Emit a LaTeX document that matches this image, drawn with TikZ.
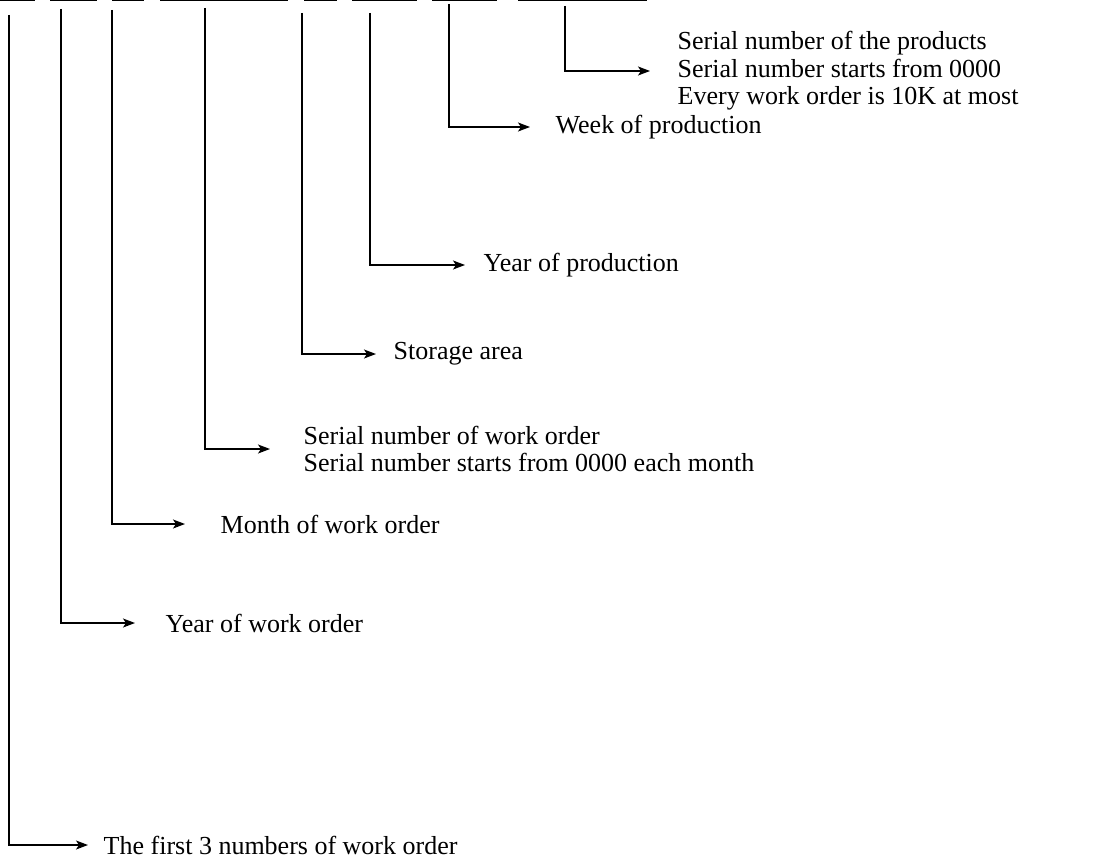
\documentclass[tikz,border=0pt]{standalone}
\usepackage{fontspec}
\setmainfont{Liberation Serif}
\usetikzlibrary{arrows.meta}

\begin{document}
\begin{tikzpicture}[x=1pt, y=-1pt, every node/.style={inner sep=0pt, anchor=west, align=left, font=\fontsize{26}{27.5}\selectfont},%
        field/.style={line width=1.4pt}, every path/.style={line width=1.4pt}, pointer/.style={-{Stealth[length=12pt,width=9pt,inset=3pt]}}]
    \useasboundingbox (0,0) rectangle (1102,859);
    % the fields of the code, cut at the top edge
    \foreach \a/\b in {0/35, 50/97, 112/144, 160/288, 304/337, 352/417, 432/497, 518/647}
        \draw[field] (\a,0.6) -- (\b,0.6);
    % where each pointer starts
    \coordinate (c1) at (9,15);
    \coordinate (c2) at (61,9);
    \coordinate (c3) at (112,10);
    \coordinate (c4) at (205,8);
    \coordinate (c5) at (302,13);
    \coordinate (c6) at (370,13);
    \coordinate (c7) at (449,4);
    \coordinate (c8) at (565,6);
    % meanings
    \node (prod) at (677,71) {Serial number of the products\\Serial number starts from 0000\\Every work order is 10K at most};
    \node (week) at (555,127) {Week of production};
    \node (yrprod) at (483,265) {Year of production};
    \node (store) at (393,354) {Storage area};
    \node (serwo) at (303,449) {Serial number of work order\\Serial number starts from 0000 each month};
    \node (month) at (220,524) {Month of work order};
    \node (yrwo) at (165,623) {Year of work order};
    \node (first) at (103,845) {The first 3 numbers of work order};
    \draw[pointer, shorten >=27pt] (c8) |- (prod.west);
    \draw[pointer, shorten >=25pt] (c7) |- (week.west);
    \draw[pointer, shorten >=18pt] (c6) |- (yrprod.west);
    \draw[pointer, shorten >=17pt] (c5) |- (store.west);
    \draw[pointer, shorten >=33pt] (c4) |- (serwo.west);
    \draw[pointer, shorten >=35pt] (c3) |- (month.west);
    \draw[pointer, shorten >=30pt] (c2) |- (yrwo.west);
    \draw[pointer, shorten >=15pt] (c1) |- (first.west);
\end{tikzpicture}
\end{document}
